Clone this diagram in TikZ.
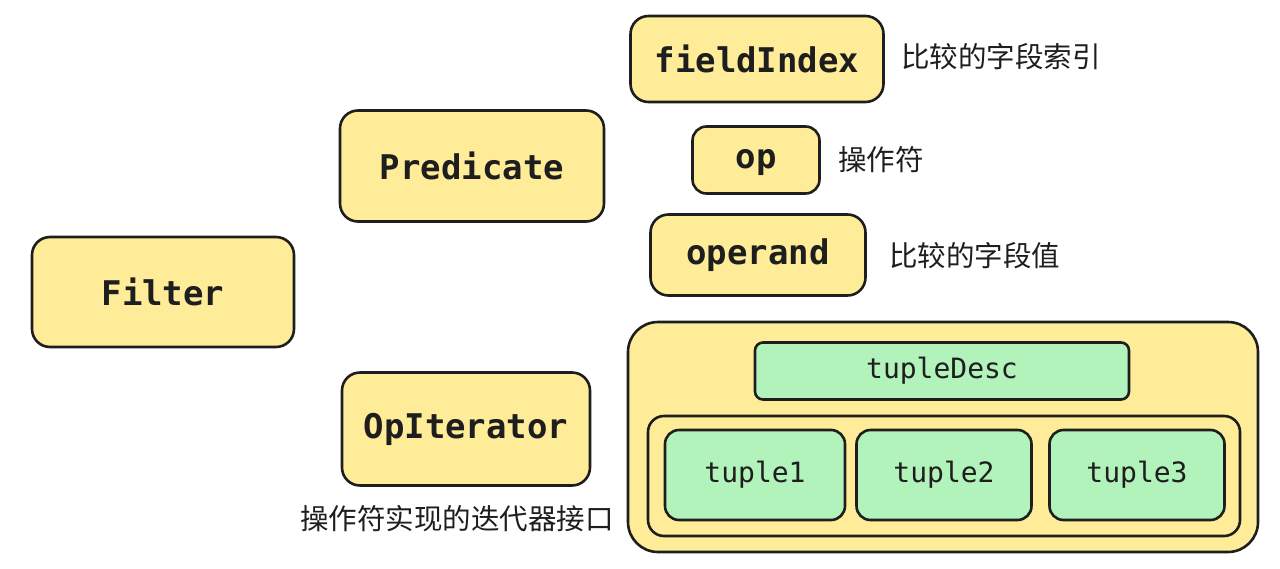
\documentclass[tikz,border=0pt]{standalone}
\usepackage{fontspec}
\setmonofont{DejaVu Sans Mono}
\newfontfamily\cjk{Noto Sans CJK SC}
\definecolor{ylw}{HTML}{FFEC99}
\definecolor{grn}{HTML}{B2F2BB}
\definecolor{ink}{HTML}{1E1E1E}
\begin{document}
\begin{tikzpicture}[x=1pt,y=-1pt,
  sk/.style={draw=ink, line width=2.6pt, rounded corners=18pt, inner sep=0pt},
  ybox/.style={sk, fill=ylw, font=\ttfamily\bfseries\fontsize{34}{36}\selectfont, text=ink},
  gbox/.style={sk, fill=grn, font=\ttfamily\fontsize{28}{30}\selectfont, text=ink},
  cont/.style={sk, fill=ylw},
  lbl/.style={font=\cjk\fontsize{28.5}{30}\selectfont, text=ink, inner sep=0pt}]
\useasboundingbox (0,0) rectangle (1280,568);
\node[ybox, minimum width=262pt, minimum height=110pt] (filter) at (163,292) {Filter};
\node[ybox, minimum width=264pt, minimum height=111pt] (pred) at (472,166) {Predicate};
\node[ybox, minimum width=248pt, minimum height=113pt] (opit) at (466,429) {OpIterator};
\node[ybox, minimum width=253pt, minimum height=86pt] (fidx) at (757,59) {fieldIndex};
\node[ybox, minimum width=127pt, minimum height=67pt, rounded corners=14pt, text depth=2pt] (op) at (756,160) {op};
\node[ybox, minimum width=215pt, minimum height=81pt] (opnd) at (758,255) {operand};
\node[cont, minimum width=630pt, minimum height=230pt, rounded corners=30pt] (box) at (943,437) {};
\node[gbox, minimum width=374pt, minimum height=57pt, rounded corners=8pt] (tdesc) at (942,371) {tupleDesc};
\node[cont, minimum width=592pt, minimum height=120pt, rounded corners=16pt] (inner) at (944,476) {};
\node[gbox, minimum width=180pt, minimum height=90pt, rounded corners=14pt] (t1) at (755,475) {tuple1};
\node[gbox, minimum width=175pt, minimum height=90pt, rounded corners=14pt] (t2) at (944,475) {tuple2};
\node[gbox, minimum width=175pt, minimum height=90pt, rounded corners=14pt] (t3) at (1137,475) {tuple3};
\node[lbl, anchor=west] (l1) at (901,57) {比较的字段索引};
\node[lbl, anchor=west] (l2) at (838,160) {操作符};
\node[lbl, anchor=west] (l3) at (889,256) {比较的字段值};
\node[lbl, anchor=west] (l4) at (300,519) {操作符实现的迭代器接口};
\end{tikzpicture}
\end{document}
